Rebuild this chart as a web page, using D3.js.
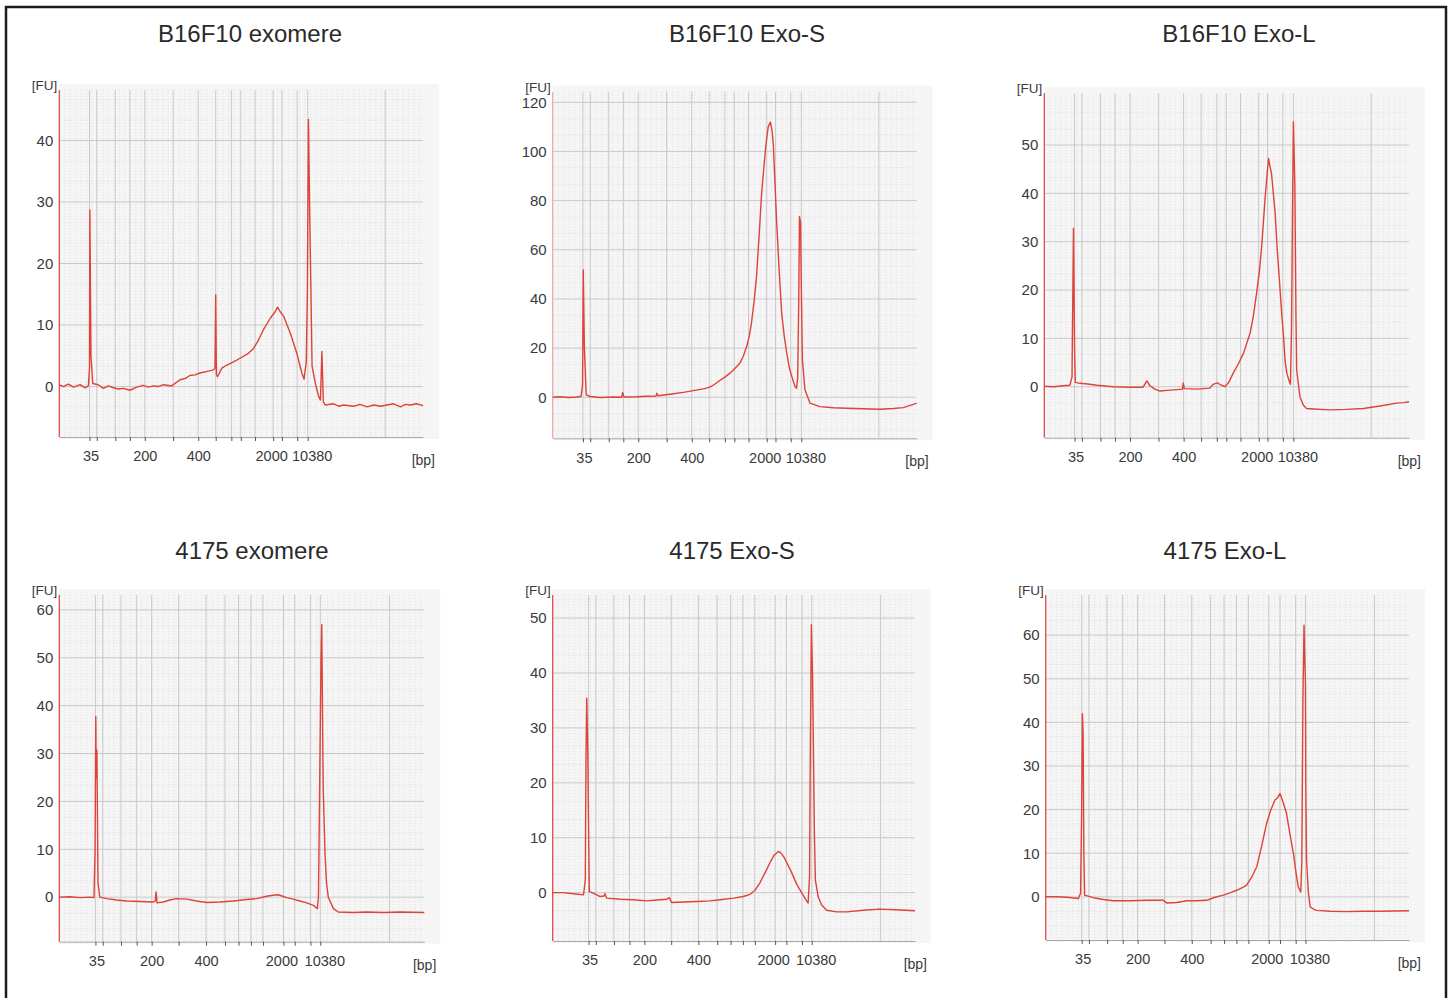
<!DOCTYPE html>
<html>
<head>
<meta charset="utf-8">
<script src="https://cdn.jsdelivr.net/npm/d3@7"></script>
<style>
  body { margin: 0; background: #fff; }
  svg { display: block; font-family: "Liberation Sans", Arial, sans-serif; }
</style>
</head>
<body>
<script>
const width = 1453;
const height = 998;

// panel titles
const titles = ["B16F10 exomere", "B16F10 Exo-S", "B16F10 Exo-L",
  "4175 exomere", "4175 Exo-S", "4175 Exo-L"];

// ladder fragments (bp) and their migration times (s) for each row of runs
const ladderBp = [35, 50, 100, 150, 200, 300, 400, 500, 600, 700, 1000, 2000, 3000, 7000, 10380];
const ladderTop = [38.3, 40.3, 45.4, 49.4, 53.5, 61.3, 68.2, 73.0, 77.3, 79.9, 83.8, 88.8, 91.2, 95.4, 98.3];
const ladderBottom = [39.9, 41.9, 46.9, 51.2, 55.3, 62.7, 70.2, 75.4, 79.1, 82.5, 85.8, 91.4, 94.5, 98.8, 101.5];
const runEndTop = 119.6;
const runEndBottom = 120.5;
const labelBp = [35, 200, 400, 2000, 10380];

// time range (s) and FU ranges
const timeRange = [30, 130];
const yMin = [-8.2, -16.7, -10.55, -9.3, -8.8, -9.9];
const yMax = [48.2, 124.3, 60.7, 63.1, 54.2, 69.2];
const yStep = [10, 20, 10, 10, 10, 10];
const yTop = [40, 120, 50, 60, 50, 60];

// traces: [time (s), FU]
const trace1 = [[30.0,0.3],[31.1,0.0],[32.5,0.4],[33.9,-0.1],[35.7,0.3],[37.1,-0.2],[38.0,0.1],[38.3,3],[38.4,28.7],[38.7,5],
  [39.2,0.5],[40.7,0.3],[42.1,-0.3],[43.5,0.1],[44.9,-0.2],[46.2,-0.4],[47.6,-0.3],[49.4,-0.6],[51.3,-0.1],[53.1,0.2],
  [54.5,-0.1],[55.9,0.1],[57.2,0.0],[58.6,0.3],[60.9,0.1],[63.2,1.1],[64.6,1.3],[65.9,1.8],[67.3,1.9],[68.7,2.2],
  [71.0,2.5],[72.4,2.7],[72.8,3.0],[73.0,14.9],[73.2,2.0],[73.5,1.6],[74.7,3.0],[76.1,3.5],[77.9,4.0],[79.7,4.6],
  [82.0,5.4],[83.4,6.2],[84.8,7.6],[86.1,9.2],[88.0,11.1],[89.4,12.2],[90.0,12.9],[90.7,12.2],[91.7,11.4],[93.5,8.7],
  [95.3,5.4],[96.7,2.2],[97.3,1.2],[97.9,4],[98.2,15],[98.5,43.4],[98.9,26],[99.2,15],[99.5,3.3],[100.4,0.5],
  [101.3,-1.6],[101.8,-2.2],[102.2,5.7],[102.6,-2.5],[103.1,-3.0],[105.4,-2.8],[106.8,-3.2],[108.2,-3.0],[110.9,-3.2],
  [112.7,-2.9],[114.6,-3.3],[116.5,-3.0],[118.3,-3.2],[121.9,-2.8],[123.8,-3.3],[125.2,-2.9],[126.5,-3.0],[128.2,-2.8],[130.0,-3.1]];

const trace2 = [[30.0,0.0],[32.0,0.2],[34.3,-0.1],[36.6,0.1],[37.8,0.3],[38.2,5],[38.4,51.8],[38.7,20],[39.2,1.0],[40.3,0.3],
  [43.0,-0.1],[46.7,0.1],[49.0,0.0],[49.2,1.9],[49.6,0.1],[53.1,0.2],[55.8,0.4],[58.4,0.5],[58.6,1.6],[59.0,0.6],
  [63.2,1.4],[65.9,2.0],[68.6,2.7],[71.4,3.4],[73.2,4.1],[74.6,5.4],[75.9,6.8],[77.3,8.2],[78.7,9.8],[80.1,11.8],
  [81.4,13.8],[82.3,16.5],[83.3,20.6],[84.0,25],[84.6,30.1],[85.4,40],[86.0,49],[86.8,68],[87.4,83],[88.1,95],
  [88.6,103],[89.2,110],[89.8,112],[90.3,108],[90.6,103],[91.1,86],[91.5,72],[92.2,52],[92.9,34.2],[93.6,25],
  [94.3,17.9],[95.0,12],[95.7,8.4],[96.6,4.3],[97.0,3.7],[97.3,8],[97.6,40],[97.8,73.5],[98.1,70.8],[98.3,45],
  [98.6,15.2],[99.3,3.0],[100.7,-2.4],[103.4,-3.8],[107.1,-4.3],[110.8,-4.5],[115.3,-4.7],[119.9,-4.9],[123.6,-4.6],
  [126.3,-4.2],[129.1,-2.9],[130.0,-2.4]];

const trace3 = [[30.0,0.1],[32.5,0.0],[35.2,0.2],[37.0,0.3],[37.6,2],[38.0,32.8],[38.3,8],[38.5,0.9],[39.8,0.7],[42.5,0.5],
  [44.4,0.3],[48.9,0.0],[53.5,-0.1],[57.1,-0.1],[58.1,1.2],[59.0,0.2],[60.3,-0.5],[61.7,-0.9],[64.5,-0.7],[67.2,-0.55],
  [67.9,-0.5],[68.1,0.8],[68.4,-0.4],[71.8,-0.5],[75.4,-0.3],[76.3,0.5],[77.4,0.8],[78.6,0.3],[79.5,0.0],[80.5,0.8],
  [81.8,2.8],[83.2,4.7],[84.6,6.9],[86.4,11],[87.3,14.5],[88.2,19.3],[89.0,24],[89.6,29],[90.5,38.6],[91.2,45],
  [91.5,47.2],[91.9,45.5],[92.3,44.1],[92.8,40],[93.3,35.9],[93.9,28],[94.4,22.8],[95.1,15],[95.6,10.3],[96.0,5.5],
  [96.5,2.8],[97.2,1.0],[97.5,0.5],[97.8,12.4],[98.1,40],[98.3,54.8],[98.6,45],[98.7,42],[99.0,15],[99.2,3.4],
  [100.1,-2.1],[101.0,-3.8],[101.9,-4.5],[103.8,-4.6],[108.3,-4.8],[112.9,-4.7],[117.5,-4.5],[122.0,-4.0],[126.6,-3.4],
  [128.5,-3.3],[130.0,-3.1]];

const trace4 = [[30.0,0.0],[32.9,0.1],[35.7,-0.1],[38.4,0.0],[39.5,-0.1],[39.8,10],[40.0,37.7],[40.1,25],[40.3,30.7],[40.6,3],
  [41.1,0.0],[43.0,-0.3],[45.7,-0.6],[48.4,-0.8],[52.1,-0.9],[55.8,-1.0],[56.3,-0.8],[56.5,1.1],[56.8,-1.2],[58.5,-1.0],
  [60.3,-0.6],[62.1,-0.3],[64.9,-0.4],[67.6,-0.8],[70.4,-1.1],[74.0,-1.0],[77.7,-0.8],[81.3,-0.5],[84.1,-0.3],[86.8,0.2],
  [88.6,0.4],[90.0,0.5],[92.3,-0.1],[94.1,-0.4],[95.9,-0.8],[97.8,-1.2],[99.6,-1.7],[100.7,-2.4],[101.0,0],[101.4,27.9],
  [101.7,50],[101.9,56.9],[102.1,40],[102.3,23],[102.8,9.1],[103.2,3],[103.7,0.0],[105.1,-2.4],[106.4,-3.1],[110.5,-3.2],
  [114.2,-3.1],[118.8,-3.2],[123.3,-3.1],[130.0,-3.2]];

const trace5 = [[30.0,0.0],[32.9,0.0],[35.7,-0.2],[38.5,-0.4],[39.0,2.3],[39.2,25],[39.4,35.4],[39.7,25],[39.8,18],[40.1,0.2],
  [41.2,-0.1],[43.1,-0.7],[44.2,-0.6],[44.4,-0.2],[44.9,-1.0],[48.6,-1.2],[52.3,-1.3],[55.9,-1.5],[59.6,-1.3],[61.5,-1.2],
  [62.2,-0.9],[62.8,-1.8],[66.1,-1.7],[69.7,-1.6],[73.4,-1.5],[76.2,-1.3],[79.9,-1.0],[82.6,-0.7],[84.5,-0.3],[85.8,0.4],
  [87.2,1.8],[88.6,3.6],[90.0,5.5],[91.1,6.8],[92.3,7.5],[92.9,7.3],[93.7,6.6],[94.6,5.5],[96.0,3.6],[97.3,1.6],
  [98.7,0.0],[99.9,-1.3],[100.5,-1.9],[100.9,3],[101.1,25],[101.4,48.8],[101.7,40],[101.9,30],[102.2,12],[102.5,2.3],
  [103.3,-0.8],[104.2,-2.2],[105.6,-3.2],[108.4,-3.5],[111.1,-3.5],[115.7,-3.2],[120.3,-3.0],[124.9,-3.1],[130.0,-3.3]];

const trace6 = [[30.0,0.0],[33.0,0.0],[35.8,-0.1],[39.0,-0.4],[39.6,0.8],[39.9,20],[40.1,42.0],[40.3,37],[40.5,10],[40.7,0.4],
  [43.1,-0.2],[45.9,-0.6],[48.6,-0.9],[53.2,-0.9],[57.8,-0.8],[61.5,-0.8],[62.2,-0.7],[63.3,-1.4],[66.1,-1.3],[68.8,-0.9],
  [71.6,-0.9],[74.3,-0.8],[76.6,-0.1],[78.9,0.4],[80.7,0.9],[82.6,1.5],[84.4,2.2],[85.3,2.7],[86.7,4.5],[88.1,6.9],
  [89.4,11.5],[90.8,16.8],[91.9,19.8],[93.1,22.2],[93.9,22.8],[94.5,23.7],[95.4,21.5],[96.3,19.1],[97.2,14.5],[98.2,9.9],
  [98.9,5.5],[99.5,2.3],[100.2,1.1],[100.5,8],[100.8,45],[101.1,62.3],[101.3,55],[101.5,48.9],[101.6,25],[101.8,8.4],
  [102.3,1.0],[102.8,-2.3],[103.7,-2.8],[104.6,-3.1],[108.3,-3.3],[112.8,-3.4],[117.4,-3.3],[122.0,-3.3],[130.0,-3.2]];

const traces = [trace1, trace2, trace3, trace4, trace5, trace6];

// layout of the six plot areas
const layout = [
  { x0: 59.3, x1: 423, y0: 90, y1: 437, tx: 250, ty: 42 },
  { x0: 552.7, x1: 916.7, y0: 91.7, y1: 438.3, tx: 747, ty: 42 },
  { x0: 1044.3, x1: 1409, y0: 93.3, y1: 437.7, tx: 1239, ty: 42 },
  { x0: 59.3, x1: 424.3, y0: 595, y1: 941.7, tx: 252, ty: 559 },
  { x0: 552.7, x1: 915, y0: 595, y1: 941, tx: 732, ty: 559 },
  { x0: 1045.7, x1: 1409, y0: 595, y1: 940, tx: 1225, ty: 559 }
];

const colors = {
  trace: "#de4239",
  axis: "#e24a44",
  axisPale: "#f1a5a5",
  grid: "#c9c9c9",
  minor: "#dedede",
  bg: "#f5f5f5",
  text: "#3a3a3a"
};
const labelNudge = { 35: 1, 2000: -2, 10380: 4 };

const svg = d3.select("body")
  .append("svg")
  .attr("width", width)
  .attr("height", height);

// outer frame (open at the bottom)
svg.append("path")
  .attr("d", "M6,998V7H1446V998")
  .attr("fill", "none")
  .attr("stroke", "#1c1c1c")
  .attr("stroke-width", 2.5);

layout.forEach((p, i) => {
  const ladder = i < 3 ? ladderTop : ladderBottom;
  const runEnd = i < 3 ? runEndTop : runEndBottom;

  const x = d3.scaleLinear().domain(timeRange).range([p.x0, p.x1]);
  const y = d3.scaleLinear().domain([yMin[i], yMax[i]]).range([p.y1, p.y0]);
  const g = svg.append("g");

  g.append("rect")
    .attr("x", p.x0)
    .attr("y", p.y0 - 6)
    .attr("width", p.x1 - p.x0 + 16)
    .attr("height", p.y1 - p.y0 + 8)
    .attr("fill", colors.bg);

  // minor vertical grid
  g.selectAll(".vminor")
    .data(d3.range(timeRange[0] + 1.5, timeRange[1], 1.5))
    .enter()
    .append("line")
    .attr("x1", d => x(d)).attr("x2", d => x(d))
    .attr("y1", p.y0).attr("y2", p.y1)
    .attr("stroke", colors.minor)
    .attr("stroke-dasharray", "1,2");

  // minor horizontal grid, thirds of a major step
  const third = yStep[i] / 3;
  const minorY = d3.range(Math.ceil(yMin[i] / third) * third, yMax[i], third)
    .filter(v => Math.abs(v / yStep[i] - Math.round(v / yStep[i])) > 0.01);
  g.selectAll(".hminor")
    .data(minorY)
    .enter()
    .append("line")
    .attr("x1", p.x0).attr("x2", p.x1)
    .attr("y1", d => y(d)).attr("y2", d => y(d))
    .attr("stroke", colors.minor)
    .attr("stroke-dasharray", "1,2");

  // major horizontal grid
  const yTicks = d3.range(0, yTop[i] + 1, yStep[i]);
  g.selectAll(".hmajor")
    .data(yTicks)
    .enter()
    .append("line")
    .attr("x1", p.x0).attr("x2", p.x1)
    .attr("y1", d => y(d)).attr("y2", d => y(d))
    .attr("stroke", colors.grid);

  // ladder lines
  g.selectAll(".vmajor")
    .data(ladder.concat([runEnd]))
    .enter()
    .append("line")
    .attr("x1", d => x(d)).attr("x2", d => x(d))
    .attr("y1", p.y0).attr("y2", p.y1)
    .attr("stroke", colors.grid);

  // bottom axis with ladder ticks
  const xAxis = g.append("g")
    .attr("transform", `translate(0,${p.y1})`)
    .call(d3.axisBottom(x)
      .tickValues(ladder)
      .tickSize(4)
      .tickSizeOuter(0)
      .tickPadding(10)
      .tickFormat((d, j) => labelBp.includes(ladderBp[j]) ? ladderBp[j] : ""));
  xAxis.select(".domain").attr("stroke", "#a8a8a8");
  xAxis.selectAll(".tick line").attr("stroke", "#555");
  xAxis.selectAll(".tick text")
    .attr("fill", colors.text)
    .attr("font-size", 14.5)
    .attr("dx", (d, j) => labelNudge[ladderBp[j]] || 0);

  // left axis labels
  const yAxis = g.append("g")
    .attr("transform", `translate(${p.x0},0)`)
    .call(d3.axisLeft(y).tickValues(yTicks).tickSize(0).tickPadding(6));
  yAxis.select(".domain").remove();
  yAxis.selectAll(".tick text")
    .attr("fill", colors.text)
    .attr("font-size", 15);

  g.append("line")
    .attr("x1", p.x0).attr("x2", p.x0)
    .attr("y1", p.y0).attr("y2", p.y1)
    .attr("stroke", i === 1 ? colors.axisPale : colors.axis)
    .attr("stroke-width", 1.3);

  g.append("text")
    .attr("x", p.x0 - 2)
    .attr("y", p.y0)
    .attr("text-anchor", "end")
    .attr("font-size", 13.5)
    .attr("fill", colors.text)
    .text("[FU]");

  g.append("text")
    .attr("x", p.x1 + 12)
    .attr("y", p.y1 + 28)
    .attr("text-anchor", "end")
    .attr("font-size", 14)
    .attr("fill", colors.text)
    .text("[bp]");

  g.append("path")
    .datum(traces[i])
    .attr("fill", "none")
    .attr("stroke", colors.trace)
    .attr("stroke-width", 1.4)
    .attr("stroke-linejoin", "round")
    .attr("d", d3.line().x(d => x(d[0])).y(d => y(d[1])));

  svg.append("text")
    .attr("x", p.tx)
    .attr("y", p.ty)
    .attr("text-anchor", "middle")
    .attr("font-size", 24)
    .attr("fill", "#2a2a2a")
    .text(titles[i]);
});
</script>
</body>
</html>
